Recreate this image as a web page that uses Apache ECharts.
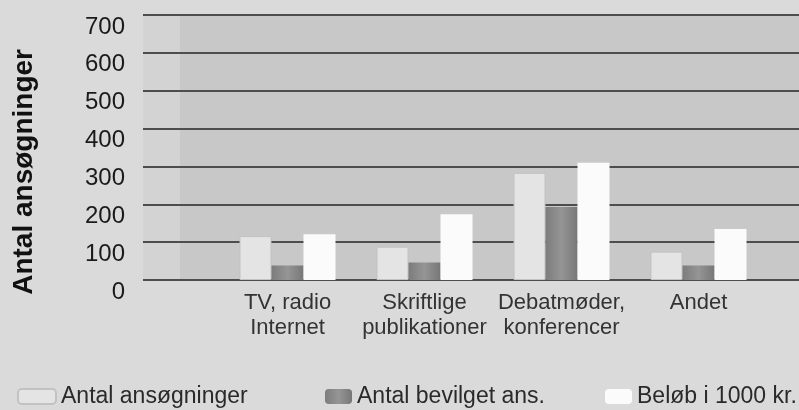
<!DOCTYPE html>
<html>
<head>
<meta charset="utf-8">
<script src="https://cdn.jsdelivr.net/npm/echarts@6/dist/echarts.min.js"></script>
<style>
  html, body { margin: 0; padding: 0; background: #dadada; }
  #chart { width: 799px; height: 410px; }
</style>
</head>
<body>
<div id="chart"></div>
<script>
const categories = ["TV, radio\nInternet", "Skriftlige\npublikationer", "Debatmøder,\nkonferencer", "Andet"];
const seriesNames = ["Antal ansøgninger", "Antal bevilget ans.", "Beløb i 1000 kr."];
const ansogninger = [116, 88, 283, 75];
const bevilget = [38, 46, 193, 38];
const belob = [121, 174, 310, 135];
const yTicks = { min: 0, max: 700, interval: 100 };

const font = "'Liberation Sans', Arial, sans-serif";
const chart = echarts.init(document.getElementById("chart"));

const legendBase = {
  top: 380,
  itemHeight: 15,
  textStyle: { fontFamily: font, fontSize: 23, color: "#2a2a2a" },
  selectedMode: false,
};

chart.setOption({
  backgroundColor: "#dadada",
  animation: false,
  grid: [
    { left: 143, right: 0, top: 15, height: 265, show: true, backgroundColor: "#d3d3d3", borderWidth: 0, z: 1 },
    { left: 219, width: 548, top: 15, height: 265, z: 3 },
    { left: 180, right: 0, top: 15, height: 265, show: true, backgroundColor: "#c8c8c8", borderWidth: 0, z: 1 },
  ],
  legend: [
    { ...legendBase, left: 12, itemWidth: 38, data: [seriesNames[0]] },
    { ...legendBase, left: 320, itemWidth: 27, data: [seriesNames[1]] },
    { ...legendBase, left: 600, itemWidth: 27, data: [seriesNames[2]] },
  ],
  graphic: [
    {
      type: "text",
      left: 10,
      top: 49,
      rotation: Math.PI / 2,
      style: {
        text: "Antal ansøgninger",
        font: "bold 28px " + font,
        fill: "#111",
      },
    },
  ],
  xAxis: [
    { gridIndex: 0, type: "category", data: categories, show: false },
    {
      gridIndex: 1,
      type: "category",
      data: categories,
      axisLine: { show: false },
      axisTick: { show: false },
      axisLabel: {
        interval: 0,
        margin: 10,
        fontFamily: font,
        fontSize: 22,
        lineHeight: 25,
        color: "#333",
      },
    },
    { gridIndex: 2, type: "category", data: categories, show: false },
  ],
  yAxis: [
    {
      gridIndex: 0,
      type: "value",
      ...yTicks,
      z: 5,
      axisLine: { show: false },
      axisTick: { show: false },
      axisLabel: {
        margin: 18,
        fontFamily: font,
        fontSize: 24,
        lineHeight: 24,
        verticalAlign: "top",
        color: "#1a1a1a",
      },
      splitLine: { lineStyle: { color: "#4d4d4d", width: 2 } },
    },
    { gridIndex: 1, type: "value", ...yTicks, show: false, splitLine: { show: false } },
    { gridIndex: 2, type: "value", ...yTicks, show: false, splitLine: { show: false } },
  ],
  series: [
    {
      name: seriesNames[0],
      type: "bar",
      xAxisIndex: 1,
      yAxisIndex: 1,
      z: 10,
      barWidth: 32,
      barGap: "0%",
      data: ansogninger,
      itemStyle: { color: "#e4e4e4", borderColor: "#c2c2c2", borderWidth: 1 },
    },
    {
      name: seriesNames[1],
      type: "bar",
      xAxisIndex: 1,
      yAxisIndex: 1,
      z: 10,
      barWidth: 32,
      barGap: "0%",
      data: bevilget,
      itemStyle: {
        color: new echarts.graphic.LinearGradient(0, 0, 1, 0, [
          { offset: 0, color: "#7c7c7c" },
          { offset: 0.5, color: "#959595" },
          { offset: 1, color: "#777777" },
        ]),
      },
    },
    {
      name: seriesNames[2],
      type: "bar",
      xAxisIndex: 1,
      yAxisIndex: 1,
      z: 10,
      barWidth: 32,
      barGap: "0%",
      data: belob,
      itemStyle: { color: "#fbfbfb" },
    },
  ],
});
</script>
</body>
</html>
